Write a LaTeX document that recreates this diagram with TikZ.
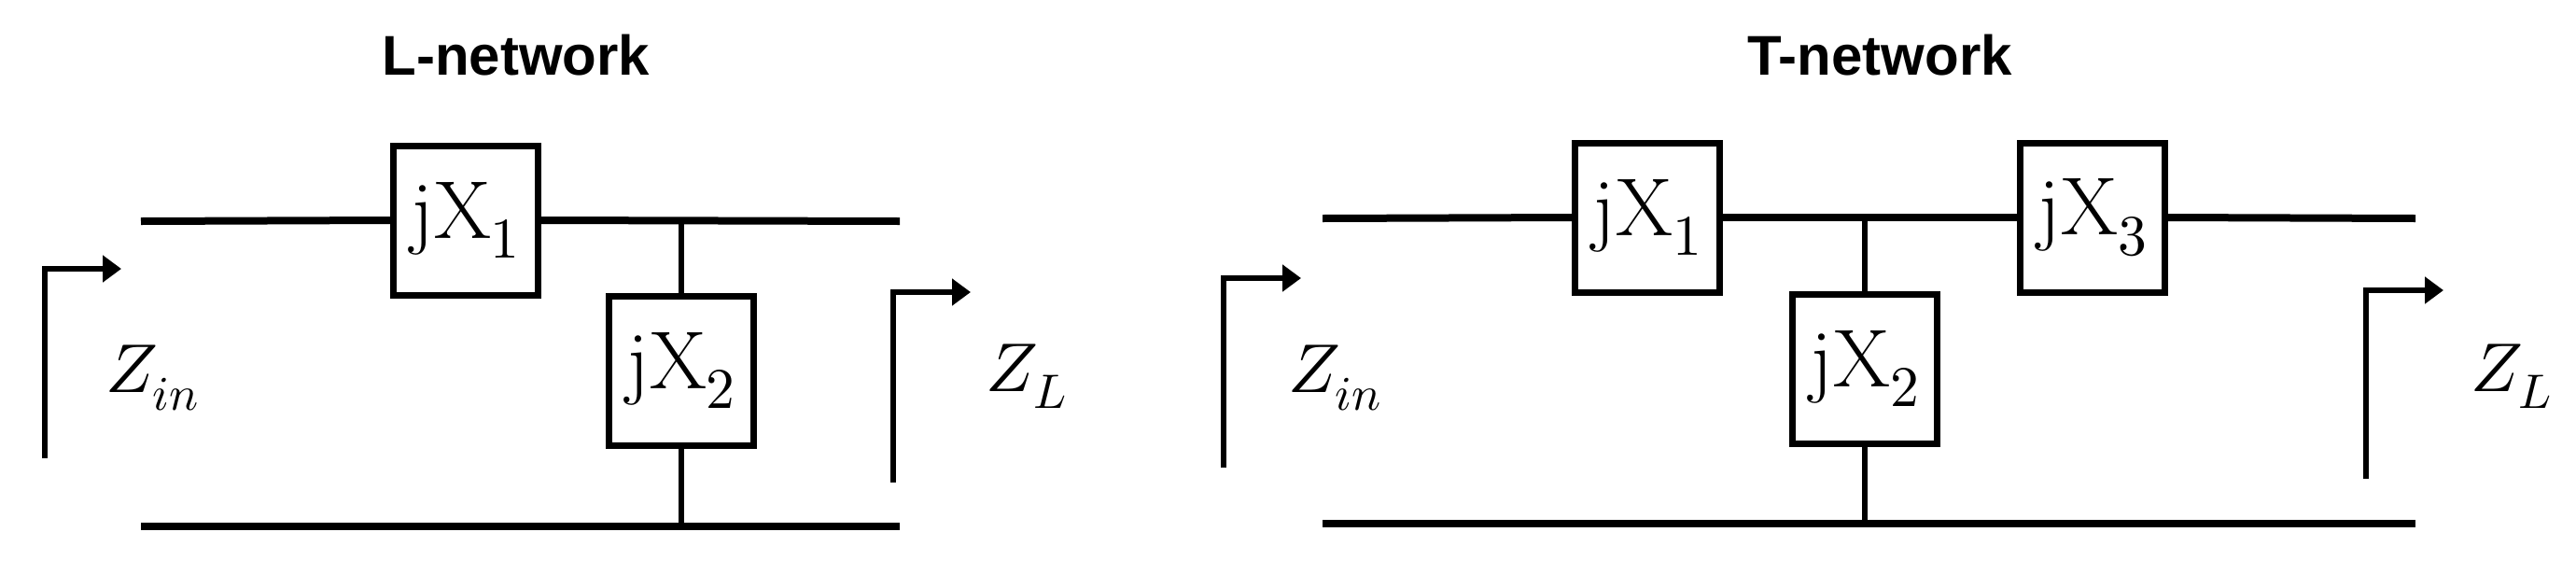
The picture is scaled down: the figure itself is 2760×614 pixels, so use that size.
\documentclass[tikz,border=0pt]{standalone}
\usepackage{fontspec}
\usepackage{unicode-math}
\setmathfont{Latin Modern Math}
\newfontfamily\arialf{Liberation Sans}
\usetikzlibrary{arrows.meta}
\begin{document}
\begin{tikzpicture}[x=1pt,y=-1pt,
  wire/.style={line width=8pt},
  imp/.style={draw,line width=7pt,minimum width=155pt,minimum height=160pt,inner sep=0pt,font=\fontsize{88}{96}\selectfont},
  port/.style={line width=5.5pt,-{Triangle[length=20pt,width=28pt]}},
  ttl/.style={font=\fontsize{60}{70}\selectfont\arialf\bfseries},
  zlab/.style={font=\fontsize{74}{80}\selectfont}]
\useasboundingbox (0,0) rectangle (2760,614);
% L-network
\node[ttl] (lt) at (553,59) {L-network};
\coordinate (la) at (151,237); \coordinate (lb) at (964,237);
\coordinate (lc) at (151,564); \coordinate (ld) at (964,564);
\node[imp] (l1) at (499,236) {j$\mathrm{X}_1$};
\node[imp] (l2) at (730,397) {j$\mathrm{X}_2$};
\coordinate (lj) at (730,237); \coordinate (lk) at (730,564);
\draw[wire] (la) -- (l1.west); \draw[wire] (l1.east) -- (lb);
\draw[wire] (lc) -- (ld);
\draw[line width=6pt] (lj) -- (l2.north); \draw[line width=6pt] (l2.south) -- (lk);
\coordinate (lz0) at (48,491); \coordinate (lz1) at (48,288); \coordinate (lz2) at (130,288);
\draw[port] (lz0) -- (lz1) -- (lz2);
\node[zlab] (lzin) at (163,405) {$Z_{in}$};
\coordinate (ly0) at (957,517); \coordinate (ly1) at (957,313); \coordinate (ly2) at (1040,313);
\draw[port] (ly0) -- (ly1) -- (ly2);
\node[zlab] (lzl) at (1100,403) {$Z_L$};
% T-network
\node[ttl] (tt) at (2014,59) {T-network};
\coordinate (ta) at (1417,234); \coordinate (tb) at (2588,234);
\coordinate (tc) at (1417,561); \coordinate (td) at (2588,561);
\node[imp] (t1) at (1765,233) {j$\mathrm{X}_1$};
\node[imp] (t3) at (2242,233) {j$\mathrm{X}_3$};
\node[imp] (t2) at (1998,395) {j$\mathrm{X}_2$};
\coordinate (tj) at (1998,234); \coordinate (tk) at (1998,561);
\draw[wire] (ta) -- (t1.west); \draw[wire] (t1.east) -- (t3.west); \draw[wire] (t3.east) -- (tb);
\draw[wire] (tc) -- (td);
\draw[line width=6pt] (tj) -- (t2.north); \draw[line width=6pt] (t2.south) -- (tk);
\coordinate (tz0) at (1311,501); \coordinate (tz1) at (1311,298); \coordinate (tz2) at (1394,298);
\draw[port] (tz0) -- (tz1) -- (tz2);
\node[zlab] (tzin) at (1430,405) {$Z_{in}$};
\coordinate (ty0) at (2535,513); \coordinate (ty1) at (2535,311); \coordinate (ty2) at (2618,311);
\draw[port] (ty0) -- (ty1) -- (ty2);
\node[zlab] (tzl) at (2691,403) {$Z_L$};
\end{tikzpicture}
\end{document}
